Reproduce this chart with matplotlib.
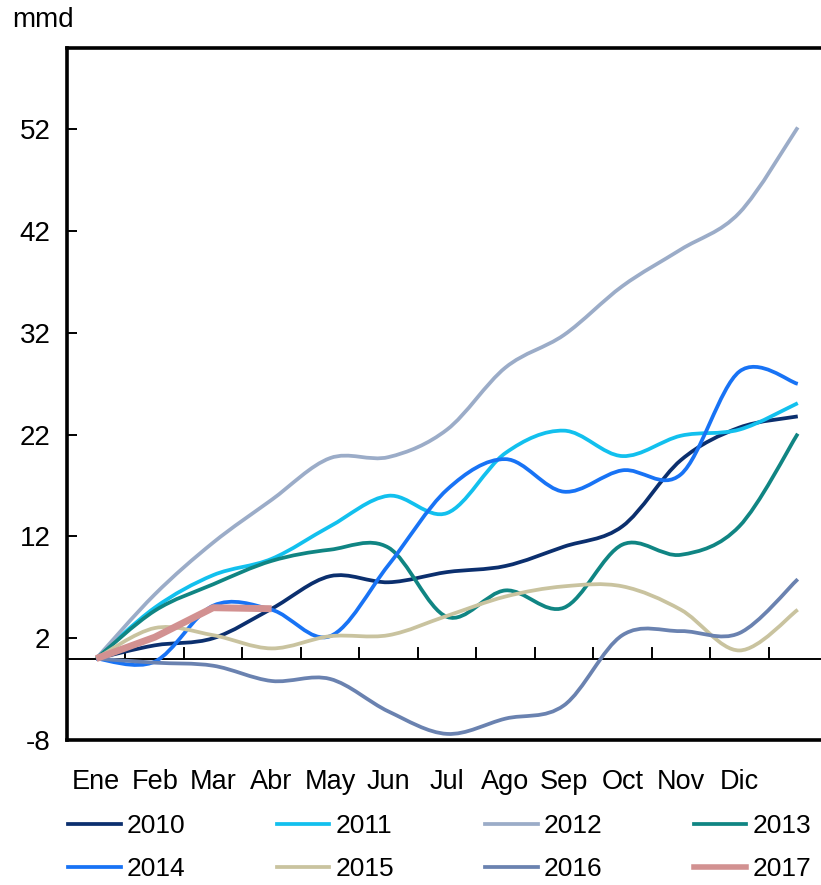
import numpy as np
import matplotlib
matplotlib.use("Agg")
import matplotlib.pyplot as plt
from matplotlib.path import Path
from matplotlib.patches import PathPatch
from matplotlib.lines import Line2D

plt.rcParams['font.family'] = ['Liberation Sans', 'DejaVu Sans']
plt.rcParams['axes.unicode_minus'] = False

# categories (13 points, last one unlabeled)
months = ["Ene", "Feb", "Mar", "Abr", "May", "Jun", "Jul", "Ago", "Sep", "Oct", "Nov", "Dic"]

y2010 = [0, 1.3, 2.0, 4.9, 8.1, 7.5, 8.5, 9.1, 11.0, 13.0, 19.5, 22.7, 23.8]
y2011 = [0, 5.0, 8.2, 9.8, 13.0, 16.0, 14.3, 20.2, 22.4, 19.9, 21.9, 22.5, 25.1]
y2012 = [0, 6.3, 11.4, 15.6, 19.7, 19.8, 22.5, 28.6, 31.8, 36.6, 40.2, 43.8, 52.2]
y2013 = [0, 4.7, 7.3, 9.6, 10.7, 10.9, 4.1, 6.7, 5.0, 11.2, 10.2, 13.0, 22.1]
y2014 = [0, -0.3, 5.2, 4.8, 2.2, 9.2, 16.6, 19.6, 16.4, 18.5, 18.1, 28.2, 27.0]
y2015 = [0, 3.0, 2.3, 1.0, 2.2, 2.3, 4.2, 6.1, 7.1, 7.1, 4.8, 0.8, 4.8]
y2016 = [0, -0.4, -0.7, -2.2, -2.0, -5.2, -7.4, -5.9, -4.6, 2.3, 2.7, 2.5, 7.8]
y2017 = [0, 2.1, 5.0, 4.9]

years = ["2010", "2011", "2012", "2013", "2014", "2015", "2016", "2017"]
series = [y2010, y2011, y2012, y2013, y2014, y2015, y2016, y2017]
colors = ["#0b2f6e", "#12c0ee", "#9bacc8", "#108583", "#1873f5", "#c9c39f", "#6a82b0", "#d29191"]
widths = [2.7, 2.7, 2.7, 2.7, 2.7, 2.7, 2.7, 5.0]


def smooth_path(ys):
    # cubic bezier through the points (Excel-like smoothed line)
    pts = np.column_stack([np.arange(len(ys)), ys]).astype(float)
    n = len(pts)
    verts = [pts[0]]
    codes = [Path.MOVETO]
    for i in range(n - 1):
        p0 = pts[max(i - 1, 0)]
        p1 = pts[i]
        p2 = pts[i + 1]
        p3 = pts[min(i + 2, n - 1)]
        c1 = p1 + (p2 - p0) / 6.0
        c2 = p2 - (p3 - p1) / 6.0
        verts += [c1, c2, p2]
        codes += [Path.CURVE4] * 3
    return Path(verts, codes)


fig = plt.figure(figsize=(8.21, 8.85), dpi=100)
ax = fig.add_axes([67 / 821, 1 - 740 / 885, (827 - 67) / 821, (740 - 48) / 885])

ax.axhline(0, color="black", lw=1.4, zorder=1)
for i in range(len(months)):
    ax.plot([i + 0.5, i + 0.5], [0, 1.0], color="black", lw=1.4, zorder=1)

handles = []
for name, ys, c, w in zip(years, series, colors, widths):
    if name == "2017":
        ax.plot(range(len(ys)), ys, color=c, lw=w, solid_capstyle="butt", zorder=3)
    else:
        ax.add_patch(PathPatch(smooth_path(ys), facecolor="none", edgecolor=c, lw=w, zorder=2))
    handles.append(Line2D([], [], color=c, lw=w if name != "2017" else 4.0))

ax.set_xlim(-0.5, 12.5)
ax.set_ylim(-8, 60)
ax.set_yticks([-8, 2, 12, 22, 32, 42, 52])
ax.set_xticks(range(len(months)))
ax.set_xticklabels(months)
ax.tick_params(axis="y", direction="in", length=7, width=1.4, labelsize=20, pad=12)
ax.tick_params(axis="x", length=0, labelsize=19.5, pad=21)
for s in ["left", "top", "bottom"]:
    ax.spines[s].set_linewidth(2.6)
ax.spines["right"].set_visible(False)

fig.text(12 / 821, 1 - 20 / 885, "mmd", fontsize=20, va="center", ha="left")

order = [0, 4, 1, 5, 2, 6, 3, 7]
fig.legend([handles[i] for i in order], [years[i] for i in order], ncol=4,
           loc="upper left", bbox_to_anchor=(68 / 821, 1 - 814 / 885),
           frameon=False, fontsize=19, handlelength=2.0, handletextpad=0.23,
           columnspacing=3.45, labelspacing=0.72, borderpad=0, borderaxespad=0)

fig.savefig("out.png", dpi=100)
